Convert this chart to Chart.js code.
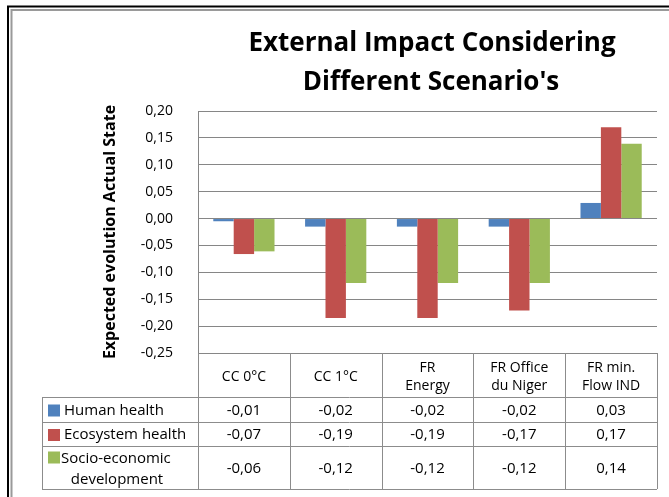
<!DOCTYPE html>
<html>
<head>
<meta charset="utf-8">
<script src="https://cdn.jsdelivr.net/npm/chart.js@4.4.1/dist/chart.umd.min.js"></script>
<style>
  html, body { margin: 0; padding: 0; background: #fff; }
  #wrap { width: 669px; height: 497px; }
</style>
</head>
<body>
<div id="wrap"><canvas id="impactChart" width="669" height="497"></canvas></div>
<script>
// scenarios (table header, may be split on two lines)
var scenarios = [["CC 0°C"], ["CC 1°C"], ["FR", "Energy"], ["FR Office", "du Niger"], ["FR min.", "Flow IND"]];
var seriesNames = [["Human health"], ["Ecosystem health"], ["Socio-economic", "development"]];

// bar values
var humanHealth = [-0.005, -0.015, -0.015, -0.015, 0.029];
var ecosystemHealth = [-0.066, -0.185, -0.185, -0.171, 0.170];
var socioEconomic = [-0.061, -0.120, -0.120, -0.120, 0.139];

// values as printed in the data table
var humanTable = ["-0,01", "-0,02", "-0,02", "-0,02", "0,03"];
var ecoTable = ["-0,07", "-0,19", "-0,19", "-0,17", "0,17"];
var socioTable = ["-0,06", "-0,12", "-0,12", "-0,12", "0,14"];

var colors = ["#4F81BD", "#C0504D", "#9BBB59"];
var font = "'Open Sans', 'Liberation Sans', sans-serif";

var tablePlugin = {
    id: "tableAndFrame",
    beforeDraw: function (chart) {
        var c = chart.ctx;
        c.save();
        c.fillStyle = "#fff";
        c.fillRect(0, 0, chart.width, chart.height);
        // outer frame (double line)
        c.strokeStyle = "#000";
        c.lineWidth = 2;
        c.beginPath();
        c.moveTo(8, chart.height);
        c.lineTo(8, 6.5);
        c.lineTo(chart.width, 6.5);
        c.stroke();
        c.strokeStyle = "#9a9a9a";
        c.lineWidth = 2;
        c.beginPath();
        c.moveTo(11.5, chart.height);
        c.lineTo(11.5, 10);
        c.lineTo(chart.width, 10);
        c.stroke();
        c.restore();
    },
    afterDraw: function (chart) {
        var c = chart.ctx;
        var area = chart.chartArea;
        var x = chart.scales.x;
        var n = scenarios.length;
        var colW = area.width / n;
        var top = area.bottom;
        var headBottom = top + 44;
        var rowBottoms = [headBottom + 25, headBottom + 49, headBottom + 92];
        var tableLeft = 42;
        c.save();

        // title
        c.fillStyle = "#000";
        c.textAlign = "center";
        c.textBaseline = "alphabetic";
        c.font = "bold 26px " + font;
        c.fillText("External Impact Considering", 432, 51);
        c.fillText("Different Scenario's", 431, 90);

        // grid of the data table
        c.strokeStyle = "#8c8c8c";
        c.lineWidth = 1;
        c.beginPath();
        for (var i = 0; i <= n; i++) {
            var lx = Math.round(area.left + i * colW) + 0.5;
            c.moveTo(lx, top);
            c.lineTo(lx, rowBottoms[2]);
        }
        c.moveTo(tableLeft + 0.5, headBottom);
        c.lineTo(tableLeft + 0.5, rowBottoms[2]);
        c.moveTo(tableLeft, headBottom + 0.5);
        c.lineTo(area.right, headBottom + 0.5);
        for (var r = 0; r < rowBottoms.length; r++) {
            c.moveTo(tableLeft, rowBottoms[r] + 0.5);
            c.lineTo(area.right, rowBottoms[r] + 0.5);
        }
        c.stroke();

        // header labels
        c.textBaseline = "middle";
        c.fillStyle = "#000";
        c.font = "14px " + font;
        for (var j = 0; j < n; j++) {
            var cx = x.getPixelForValue(j);
            var lines = scenarios[j];
            var mid = (top + headBottom) / 2 + 2;
            for (var k = 0; k < lines.length; k++) {
                c.fillText(lines[k], cx, mid + (k - (lines.length - 1) / 2) * 18);
            }
        }

        // rows: legend key + values
        var tables = [humanTable, ecoTable, socioTable];
        var rowTops = [headBottom, rowBottoms[0], rowBottoms[1]];
        c.font = "15px " + font;
        for (var r2 = 0; r2 < 3; r2++) {
            var rm = (rowTops[r2] + rowBottoms[r2]) / 2 + 1;
            var names = seriesNames[r2];
            c.fillStyle = colors[r2];
            var keyY = names.length > 1 ? rm - 11 : rm;
            c.fillRect(48, keyY - 6, 12, 12);
            c.fillStyle = "#000";
            if (names.length > 1) {
                c.textAlign = "left";
                c.fillText(names[0], 61, rm - 10);
                c.textAlign = "center";
                c.fillText(names[1], 117, rm + 11);
            } else {
                c.textAlign = "left";
                c.fillText(names[0], 64, rm);
            }
            c.textAlign = "center";
            for (var j2 = 0; j2 < n; j2++) {
                c.fillText(tables[r2][j2], x.getPixelForValue(j2), rm);
            }
        }
        c.restore();
    }
};

var ctx = document.getElementById("impactChart").getContext("2d");
var impactChart = new Chart(ctx, {
    type: "bar",
    data: {
        labels: scenarios.map(function (s) { return s.join(" "); }),
        datasets: [
            { label: seriesNames[0].join(" "), data: humanHealth, backgroundColor: colors[0] },
            { label: seriesNames[1].join(" "), data: ecosystemHealth, backgroundColor: colors[1] },
            { label: seriesNames[2].join(" "), data: socioEconomic, backgroundColor: colors[2] }
        ]
    },
    options: {
        responsive: false,
        animation: false,
        layout: {
            padding: { left: 99, right: 12, top: 111, bottom: 144 }
        },
        datasets: {
            bar: {
                categoryPercentage: 0.667,
                barPercentage: 1.0,
                borderWidth: 0
            }
        },
        plugins: {
            legend: { display: false },
            tooltip: { enabled: false }
        },
        scales: {
            x: {
                display: false
            },
            y: {
                min: -0.25,
                max: 0.2,
                afterFit: function (scale) { scale.width = 99; },
                ticks: {
                    stepSize: 0.05,
                    padding: 25,
                    color: "#000",
                    font: { family: font, size: 14 },
                    callback: function (v) {
                        if (Math.abs(v) < 1e-9) v = 0;
                        return v.toFixed(2).replace(".", ",");
                    }
                },
                grid: {
                    color: "#868686",
                    drawTicks: false
                },
                border: { color: "#868686" },
                title: {
                    display: true,
                    text: "Expected evolution Actual State",
                    color: "#000",
                    font: { family: font, size: 16, weight: "bold" },
                    padding: { top: 2, bottom: 0 }
                }
            }
        }
    },
    plugins: [tablePlugin]
});
</script>
</body>
</html>
